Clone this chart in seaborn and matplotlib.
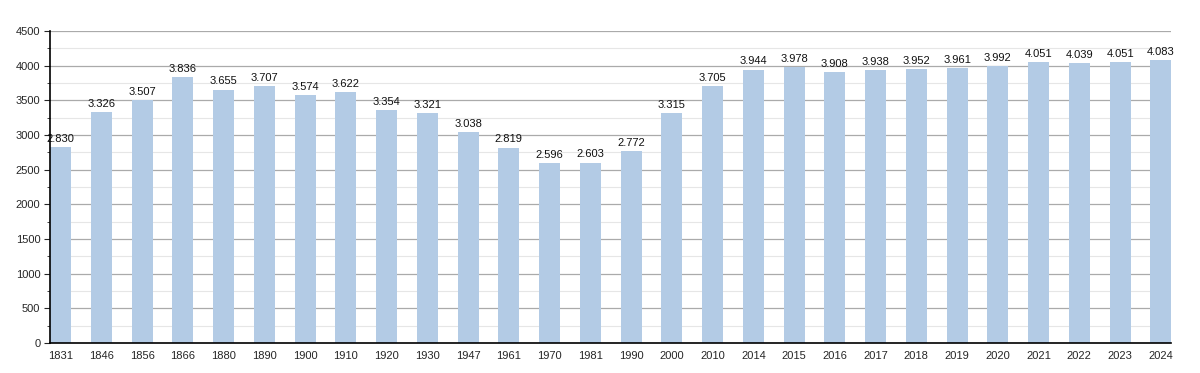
import pandas as pd
import matplotlib
matplotlib.use("Agg")
import matplotlib.pyplot as plt
import seaborn as sns
from matplotlib.ticker import MultipleLocator

# Population by year
years = ["1831", "1846", "1856", "1866", "1880", "1890", "1900", "1910", "1920", "1930",
         "1947", "1961", "1970", "1981", "1990", "2000", "2010", "2014", "2015", "2016",
         "2017", "2018", "2019", "2020", "2021", "2022", "2023", "2024"]
population = [2830, 3326, 3507, 3836, 3655, 3707, 3574, 3622, 3354, 3321,
              3038, 2819, 2596, 2603, 2772, 3315, 3705, 3944, 3978, 3908,
              3938, 3952, 3961, 3992, 4051, 4039, 4051, 4083]

df = pd.DataFrame({"year": years, "pop": population})

sns.set_style("white")
plt.rcParams['font.family'] = ['Liberation Sans', 'DejaVu Sans']

fig = plt.figure(figsize=(12, 3.73), dpi=100)
ax = fig.add_axes([0.0417, 0.0804, 0.9345, 0.8366])

sns.barplot(data=df, x="year", y="pop", color="#b3cbe5", saturation=1,
            width=0.52, ax=ax, zorder=3, edgecolor='none', linewidth=0)

for i, v in enumerate(population):
    ax.text(i, v + 45, f"{v:,}".replace(",", "."), ha='center', va='bottom',
            fontsize=8, color='#111111', zorder=4)

ax.set_ylim(0, 4500)
ax.set_xlim(-0.26, len(years) - 1 + 0.26)
ax.yaxis.set_major_locator(MultipleLocator(500))
ax.yaxis.set_minor_locator(MultipleLocator(250))
ax.grid(True, axis='y', which='major', color='#aaaaaa', linewidth=0.9, zorder=0)
ax.grid(True, axis='y', which='minor', color='#e6e6e6', linewidth=0.8, zorder=0)
ax.set_axisbelow(True)

ax.set_xlabel("")
ax.set_ylabel("")
for side in ['top', 'right']:
    ax.spines[side].set_visible(False)
for side in ['left', 'bottom']:
    ax.spines[side].set_color('black')
    ax.spines[side].set_linewidth(1.2)
    ax.spines[side].set_zorder(5)

ax.tick_params(axis='y', which='major', left=True, length=4, width=0.8, labelsize=8, pad=3)
ax.tick_params(axis='y', which='minor', left=True, length=2, width=0.6)
ax.tick_params(axis='x', bottom=False, labelsize=8, pad=2)

plt.savefig("out.png", dpi=100)
plt.close()
